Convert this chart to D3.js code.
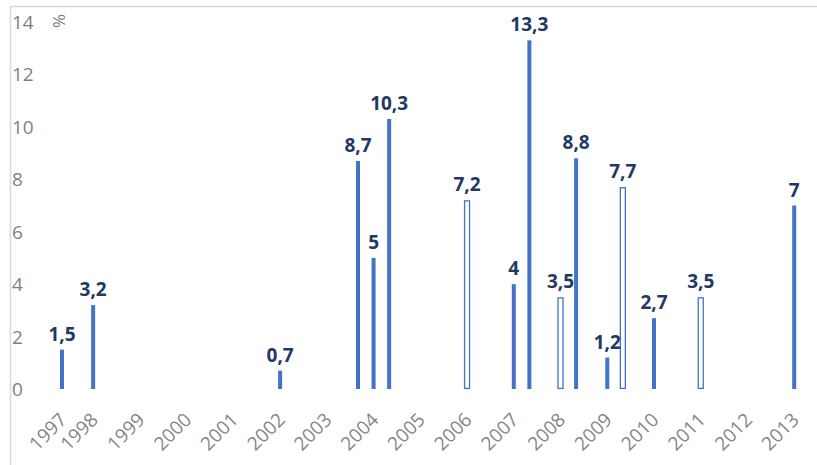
<!DOCTYPE html>
<html>
<head>
<meta charset="utf-8">
<script src="https://cdn.jsdelivr.net/npm/d3@7"></script>
<style>
  html, body { margin: 0; padding: 0; background: #fff; }
  svg { display: block; }
</style>
</head>
<body>
<svg id="chart" width="817" height="465"></svg>
<script>
// Category slots (three per year, labels only where shown)
const categories = [
  "1997", "", "1998", "", "", "1999", "", "", "2000", "", "", "2001", "", "", "2002", "",
  "", "2003", "", "", "2004", "", "", "2005", "", "", "2006", "", "", "2007", "",
  "", "2008", "", "", "2009", "", "", "2010", "", "", "2011", "", "", "2012", "", "", "2013"
];
// Solid bars: slot index and value
const solidSlots  = [0, 2, 14, 19, 20, 21, 29, 30, 33, 35, 38, 47];
const solidValues = [1.5, 3.2, 0.7, 8.7, 5, 10.3, 4, 13.3, 8.8, 1.2, 2.7, 7];
// Outlined (hollow) bars
const hollowSlots  = [26, 32, 36, 41];
const hollowValues = [7.2, 3.5, 7.7, 3.5];
const yTicks = [0, 2, 4, 6, 8, 10, 12, 14];

const svg = d3.select("#chart");
const blue = "#4472C4";
const labelColor = "#1F3864";
const axisColor = "#7F7F7F";
const font = "'Open Sans', 'Liberation Sans', sans-serif";

// chart border (top + left visible)
svg.append("line").attr("x1", 10).attr("y1", 6.5).attr("x2", 817).attr("y2", 6.5)
  .attr("stroke", "#D9D9D9").attr("stroke-width", 1.5);
svg.append("line").attr("x1", 10.5).attr("y1", 6).attr("x2", 10.5).attr("y2", 465)
  .attr("stroke", "#D9D9D9").attr("stroke-width", 1.5);

const x = d3.scaleBand().domain(d3.range(categories.length)).range([54.2, 802]).padding(0);
const y = d3.scaleLinear().domain([0, 14]).range([389, 22]);
const cx = i => x(i) + x.bandwidth() / 2;

// Y axis labels
svg.append("g").selectAll("text").data(yTicks).join("text")
  .attr("x", 12).attr("y", d => y(d))
  .attr("dominant-baseline", "central")
  .attr("font-family", font).attr("font-size", 19)
  .attr("fill", axisColor)
  .text(d => d);

// Y axis unit
svg.append("text")
  .attr("transform", `translate(65, ${y(14) - 1}) rotate(-90)`)
  .attr("text-anchor", "middle")
  .attr("font-family", font).attr("font-size", 17)
  .attr("fill", axisColor)
  .text("%");

// X axis labels
const labeled = d3.range(categories.length).filter(i => categories[i] !== "");
svg.append("g").selectAll("text").data(labeled).join("text")
  .attr("transform", i => `translate(${cx(i) + 6}, 421) rotate(-45)`)
  .attr("text-anchor", "end")
  .attr("font-family", font).attr("font-size", 19)
  .attr("fill", "#858585")
  .text(i => categories[i]);

const solid = solidSlots.map((s, k) => ({ slot: s, value: solidValues[k] }));
const hollow = hollowSlots.map((s, k) => ({ slot: s, value: hollowValues[k] }));

// Solid bars
svg.append("g").selectAll("rect").data(solid).join("rect")
  .attr("x", d => cx(d.slot) - 2)
  .attr("width", 4)
  .attr("y", d => y(d.value))
  .attr("height", d => y(0) - y(d.value))
  .attr("fill", blue);

// Hollow bars
svg.append("g").selectAll("rect").data(hollow).join("rect")
  .attr("x", d => cx(d.slot) - 2.5)
  .attr("width", 5)
  .attr("y", d => y(d.value) + 0.6)
  .attr("height", d => y(0) - y(d.value) - 1.2)
  .attr("fill", "#fff")
  .attr("stroke", blue).attr("stroke-width", 1.3);

// Data labels
const fmt = v => String(v).replace(".", ",");
svg.append("g").selectAll("text").data(solid.concat(hollow)).join("text")
  .attr("x", d => cx(d.slot))
  .attr("y", d => y(d.value) - 9)
  .attr("text-anchor", "middle")
  .attr("font-family", font).attr("font-size", 19).attr("font-weight", "bold")
  .attr("fill", labelColor)
  .text(d => fmt(d.value));
</script>
</body>
</html>
